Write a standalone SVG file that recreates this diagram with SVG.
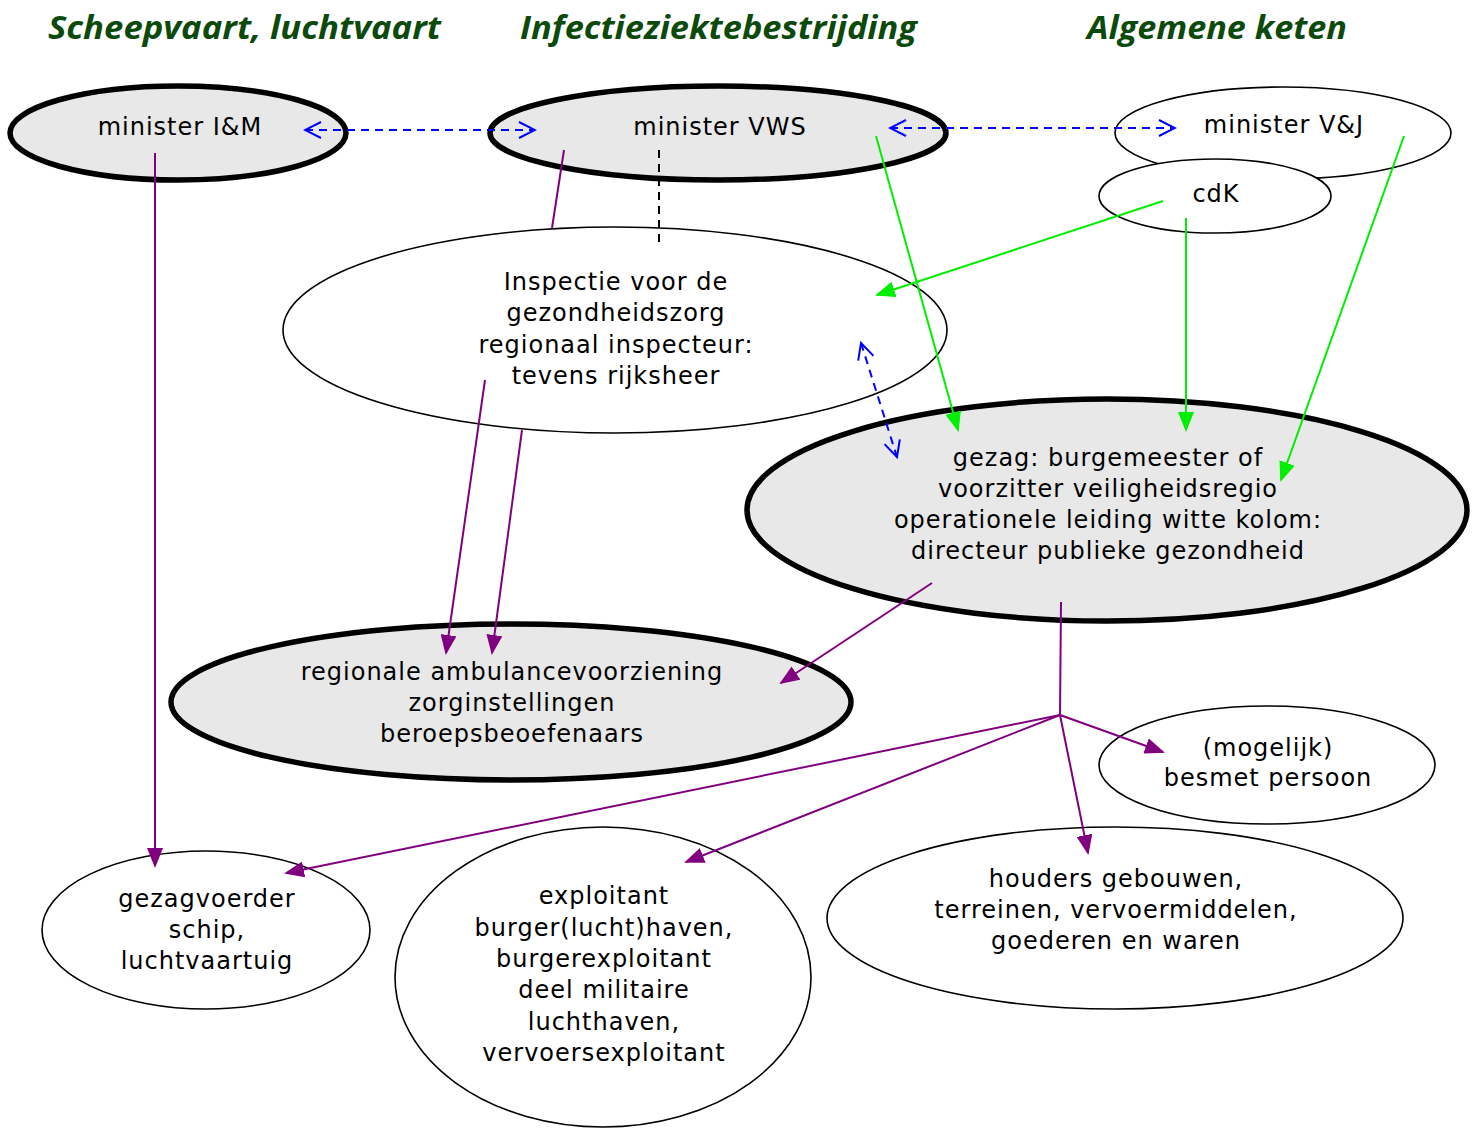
<svg xmlns="http://www.w3.org/2000/svg" width="1478" height="1128" viewBox="0 0 1478 1128">
<defs>
<style>
.hd{font-family:"Open Sans","DejaVu Sans",sans-serif;font-weight:bold;font-style:italic;font-size:33px;fill:#0b4a0b}
.t{font-family:"DejaVu Sans","Noto Sans",sans-serif;font-size:24px;letter-spacing:1px;fill:#000;text-anchor:middle}
.thick{fill:#e8e8e8;stroke:#000;stroke-width:5.5}
.thin{fill:#fff;stroke:#000;stroke-width:1.6}
.blue{stroke:#0000ff;stroke-width:2;stroke-dasharray:8,6;fill:none}
.pur{stroke:#800080;stroke-width:2;fill:none}
.grn{stroke:#00ee00;stroke-width:2;fill:none}
</style>
<marker id="bo" viewBox="0 0 20 20" refX="18" refY="10" markerWidth="20" markerHeight="20" markerUnits="userSpaceOnUse" orient="auto-start-reverse">
<path d="M2,2 L18,10 L2,18" fill="none" stroke="#0000ff" stroke-width="2"/>
</marker>
<marker id="pa" viewBox="0 0 20 16" refX="18" refY="8" markerWidth="20" markerHeight="16" markerUnits="userSpaceOnUse" orient="auto">
<path d="M0,0 L20,8 L0,16 Z" fill="#800080"/>
</marker>
<marker id="ga" viewBox="0 0 20 16" refX="18" refY="8" markerWidth="20" markerHeight="16" markerUnits="userSpaceOnUse" orient="auto">
<path d="M0,0 L20,8 L0,16 Z" fill="#00ee00"/>
</marker>
</defs>
<rect width="1478" height="1128" fill="#fff"/>
<g id="headers">
<text class="hd" x="48" y="39" textLength="393" lengthAdjust="spacingAndGlyphs">Scheepvaart, luchtvaart</text>
<text class="hd" x="520" y="39" textLength="397" lengthAdjust="spacingAndGlyphs">Infectieziektebestrijding</text>
<text class="hd" x="1087" y="39" textLength="260" lengthAdjust="spacingAndGlyphs">Algemene keten</text>
</g>
<g id="n-minIM"><ellipse class="thick" cx="178" cy="133" rx="168" ry="47"/><text class="t" x="180" y="135">minister I&amp;M</text></g>
<g id="n-minVWS"><ellipse class="thick" cx="718" cy="133" rx="228" ry="47"/><text class="t" x="720" y="135">minister VWS</text></g>
<g id="n-minVJ"><ellipse class="thin" cx="1283" cy="133" rx="168" ry="46"/><text class="t" x="1284" y="133">minister V&amp;J</text></g>
<g id="n-cdk"><ellipse class="thin" cx="1215" cy="196" rx="116" ry="37"/><text class="t" x="1216" y="202">cdK</text></g>
<g id="n-insp"><ellipse class="thin" cx="615" cy="330" rx="332" ry="103"/>
<text class="t" x="616" y="290">Inspectie voor de</text><text class="t" x="616" y="321">gezondheidszorg</text><text class="t" x="616" y="353">regionaal inspecteur:</text><text class="t" x="616" y="384">tevens rijksheer</text></g>
<g id="n-gezag"><ellipse class="thick" cx="1107" cy="510" rx="360" ry="111"/>
<text class="t" x="1108" y="466">gezag: burgemeester of</text><text class="t" x="1108" y="497">voorzitter veiligheidsregio</text><text class="t" x="1108" y="528">operationele leiding witte kolom:</text><text class="t" x="1108" y="559">directeur publieke gezondheid</text></g>
<g id="n-reg"><ellipse class="thick" cx="511" cy="702" rx="340" ry="78"/>
<text class="t" x="512" y="680">regionale ambulancevoorziening</text><text class="t" x="512" y="711">zorginstellingen</text><text class="t" x="512" y="742">beroepsbeoefenaars</text></g>
<g id="n-besmet"><ellipse class="thin" cx="1267" cy="765" rx="168" ry="59"/>
<text class="t" x="1268" y="756">(mogelijk)</text><text class="t" x="1268" y="786">besmet persoon</text></g>
<g id="n-gezagvoerder"><ellipse class="thin" cx="206" cy="930" rx="164" ry="79"/>
<text class="t" x="207" y="907">gezagvoerder</text><text class="t" x="207" y="938">schip,</text><text class="t" x="207" y="969">luchtvaartuig</text></g>
<g id="n-exploitant"><ellipse class="thin" cx="603" cy="977" rx="208" ry="150"/>
<text class="t" x="604" y="904">exploitant</text><text class="t" x="604" y="936">burger(lucht)haven,</text><text class="t" x="604" y="967">burgerexploitant</text><text class="t" x="604" y="998">deel militaire</text><text class="t" x="604" y="1030">luchthaven,</text><text class="t" x="604" y="1061">vervoersexploitant</text></g>
<g id="n-houders"><ellipse class="thin" cx="1115" cy="918" rx="288" ry="91"/>
<text class="t" x="1116" y="887">houders gebouwen,</text><text class="t" x="1116" y="918">terreinen, vervoermiddelen,</text><text class="t" x="1116" y="949">goederen en waren</text></g>
<g id="connectors">
<line class="blue" x1="305" y1="130" x2="535" y2="130" marker-start="url(#bo)" marker-end="url(#bo)"/>
<line class="blue" x1="890" y1="128" x2="1175" y2="128" marker-start="url(#bo)" marker-end="url(#bo)"/>
<line class="blue" x1="861" y1="343" x2="897" y2="457" marker-start="url(#bo)" marker-end="url(#bo)"/>
<line x1="659" y1="150" x2="659" y2="242" stroke="#000" stroke-width="2" stroke-dasharray="8,6"/>
<line class="pur" x1="564" y1="150" x2="552" y2="228"/>
<line class="pur" x1="155" y1="153" x2="155" y2="866" marker-end="url(#pa)"/>
<line class="pur" x1="485" y1="380" x2="446" y2="653" marker-end="url(#pa)"/>
<line class="pur" x1="522" y1="430" x2="492" y2="653" marker-end="url(#pa)"/>
<line class="pur" x1="932" y1="583" x2="781" y2="683" marker-end="url(#pa)"/>
<line class="pur" x1="1061" y1="602" x2="1060" y2="715"/>
<line class="pur" x1="1060" y1="715" x2="1163" y2="752" marker-end="url(#pa)"/>
<line class="pur" x1="1060" y1="715" x2="1088" y2="853" marker-end="url(#pa)"/>
<line class="pur" x1="1060" y1="715" x2="686" y2="862" marker-end="url(#pa)"/>
<line class="pur" x1="1060" y1="715" x2="286" y2="873" marker-end="url(#pa)"/>
<line class="grn" x1="876" y1="136" x2="958" y2="430" marker-end="url(#ga)"/>
<line class="grn" x1="1163" y1="201" x2="877" y2="295" marker-end="url(#ga)"/>
<line class="grn" x1="1186" y1="218" x2="1186" y2="430" marker-end="url(#ga)"/>
<line class="grn" x1="1404" y1="136" x2="1281" y2="480" marker-end="url(#ga)"/>
</g>
</svg>
